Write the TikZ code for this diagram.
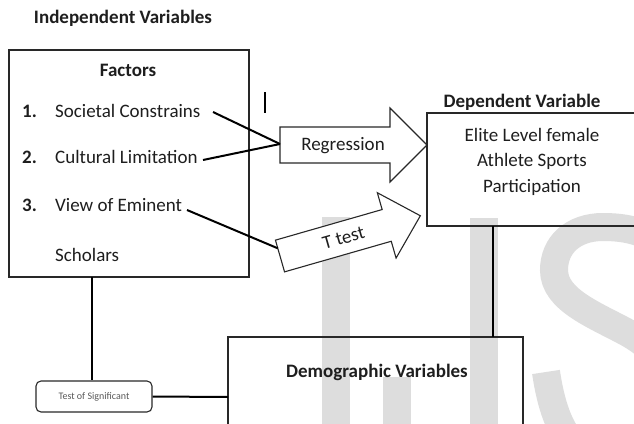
\documentclass[tikz,border=0pt]{standalone}
\usepackage{fontspec}
\setmainfont{Carlito}
\definecolor{wm}{RGB}{221,221,221}
\definecolor{ink}{RGB}{30,30,30}
\definecolor{boxline}{RGB}{40,40,40}
\tikzset{
  txt/.style={inner sep=0pt, text=ink, font=\fontsize{19}{23}\selectfont},
  bold/.style={txt, font=\fontsize{19}{23}\selectfont\bfseries},
  frame/.style={draw=boxline, line width=1.1pt},
  conn/.style={draw=black, line width=2pt},
  blockarrow/.style={draw=boxline, line width=1.1pt, fill=white, line join=miter},
  wmark/.style={draw=wm, line width=28pt}
}
\begin{document}
\begin{tikzpicture}[x=1pt,y=-1pt]
\useasboundingbox (0,0) rectangle (634,423);
\clip (0,0) rectangle (634,423);
\fill[white] (0,0) rectangle (634,423);
% watermark
\fill[wm] (322,217) rectangle (350,440);
\draw[wmark] (484,218) -- (484,440);
\draw[wmark] (397,377) -- (397,440);
\draw[wmark] (660,245) .. controls (645,230) and (622,227) .. (603,227)
  .. controls (573,227) and (554,245) .. (554,270)
  .. controls (554,300) and (595,315) .. (628,333)
  .. controls (662,352) and (678,380) .. (675,410)
  .. controls (672,442) and (640,458) .. (610,458)
  .. controls (580,458) and (556,440) .. (546,372);
% title
\node[bold] (iv) at (123,18) {Independent Variables};
% factors box
\draw[frame] (9,50) rectangle (249,277);
\coordinate (fbot) at (92,277);
\node[bold] (fac) at (128,70) {Factors};
\node[bold, anchor=west] (n1) at (22,111) {1.};
\node[txt, anchor=west] (t1) at (55,111) {Societal Constrains};
\node[bold, anchor=west] (n2) at (22,157) {2.};
\node[txt, anchor=west] (t2) at (55,157) {Cultural Limitation};
\node[bold, anchor=west] (n3) at (22,205) {3.};
\node[txt, anchor=west] (t3) at (55,205) {View of Eminent};
\node[txt, anchor=west] (t4) at (55,255) {Scholars};
% small bar
\draw[black, line width=1.3pt] (265,92) -- (265,113);
% regression arrow
\draw[blockarrow] (280,127) -- (390,127) -- (390,108) -- (427,145) -- (390,182) -- (390,163) -- (280,163) -- cycle;
\coordinate (regtail) at (280,144);
\node[txt] (reg) at (343,146) {Regression};
% t test arrow
\begin{scope}[shift={(280,256)}, rotate=16]
  \draw[blockarrow] (0,-16.5) -- (111,-16.5) -- (111,-34) -- (146,0) -- (111,34) -- (111,16.5) -- (0,16.5) -- cycle;
  \coordinate (ttail) at (0,-8);
  \node[txt, rotate=16] (tt) at (66,0) {T test};
\end{scope}
% connectors to arrows
\coordinate (e1) at (213,112);
\coordinate (e2) at (203,160);
\coordinate (e3) at (187,210);
\draw[conn] (e1) -- (regtail);
\draw[conn] (e2) -- (regtail);
\draw[conn] (e3) -- (ttail);
% dependent box
\node[bold] (dvt) at (522,102) {Dependent Variable};
\draw[frame] (427,113) rectangle (640,226);
\node[txt] (d1) at (532,135) {Elite Level female};
\node[txt] (d2) at (532,161) {Athlete Sports};
\node[txt] (d3) at (532,187) {Participation};
\coordinate (dbot) at (493,226);
% demographic box
\draw[frame] (228,337) rectangle (523,440);
\coordinate (dtop) at (493,337);
\coordinate (dleft) at (228,397);
\node[bold] (demo) at (377,372) {Demographic Variables};
% test of significant
\node[draw=boxline, line width=1.1pt, rounded corners=5pt, minimum width=116pt, minimum height=31pt, inner sep=0pt, text=gray!70!black, font=\fontsize{10}{12}\selectfont] (ts) at (94,396.5) {Test of Significant};
\draw[conn] (fbot) -- (ts.north -| fbot);
\draw[conn] (ts.east) -- (dleft);
\draw[conn] (dbot) -- (dtop);
\end{tikzpicture}
\end{document}
